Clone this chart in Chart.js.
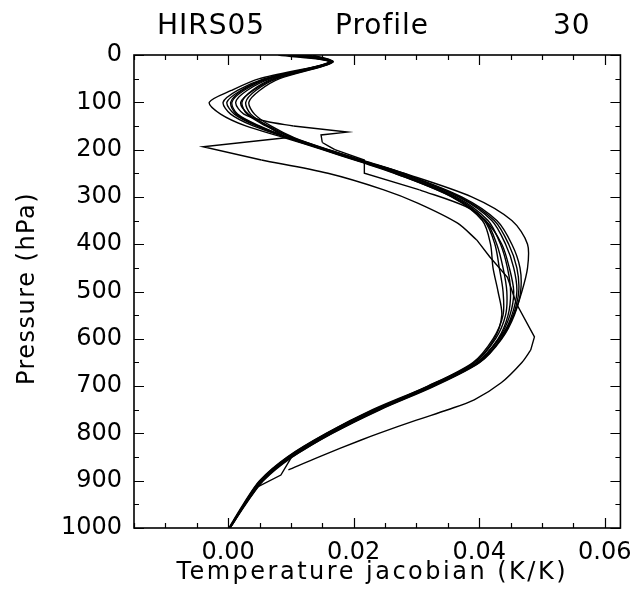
<!DOCTYPE html>
<html><head><meta charset="utf-8">
<script src="https://cdn.jsdelivr.net/npm/chart.js@4/dist/chart.umd.min.js"></script>
<style>html,body{margin:0;padding:0;background:#fff}</style>
</head><body>
<canvas id="c" width="642" height="614" style="display:block;width:642px;height:614px"></canvas>
<script>
// ---- data ----
const pressure = [0, 15, 50, 75, 100, 125, 150, 175, 200, 225, 250, 300, 350, 400, 450, 500, 550, 600, 650, 700, 750, 800, 850, 900, 950, 1000];
const profileA = [0.0080, 0.0160, 0.0050, 0.0005, -0.0030, -0.0012, 0.0028, 0.0090, 0.0150, 0.0208, 0.0265, 0.0357, 0.0408, 0.0425, 0.0432, 0.0438, 0.0438, 0.0422, 0.0390, 0.0318, 0.0230, 0.0156, 0.0094, 0.0050, 0.0024, 0.0001];
const profileB = [0.0095, 0.0162, 0.0058, 0.0015, -0.0008, 0.0004, 0.0040, 0.0094, 0.0153, 0.0211, 0.0268, 0.0360, 0.0410, 0.0428, 0.0438, 0.0444, 0.0442, 0.0426, 0.0393, 0.0320, 0.0233, 0.0158, 0.0096, 0.0051, 0.0025, 0.0002];
const profileC = [0.0110, 0.0164, 0.0065, 0.0025, 0.0006, 0.0015, 0.0050, 0.0097, 0.0156, 0.0214, 0.0271, 0.0363, 0.0414, 0.0434, 0.0445, 0.0450, 0.0446, 0.0430, 0.0396, 0.0323, 0.0236, 0.0161, 0.0098, 0.0053, 0.0026, 0.0002];
const profileD = [0.0122, 0.0165, 0.0072, 0.0038, 0.0022, 0.0030, 0.0060, 0.0101, 0.0158, 0.0217, 0.0275, 0.0367, 0.0420, 0.0442, 0.0455, 0.0460, 0.0452, 0.0434, 0.0399, 0.0326, 0.0239, 0.0164, 0.0100, 0.0055, 0.0027, 0.0003];
const profileE = [0.0135, 0.0167, 0.0082, 0.0050, 0.0033, 0.0042, 0.0068, 0.0106, 0.0160, 0.0220, 0.0279, 0.0372, 0.0428, 0.0452, 0.0465, 0.0466, 0.0456, 0.0436, 0.0401, 0.0329, 0.0242, 0.0166, 0.0102, 0.0056, 0.0028, 0.0003];
const profileF = [0.0105, 0.0163, 0.0062, 0.0022, 0.0004, 0.0013, 0.0048, 0.0096, 0.0156, 0.0216, 0.0280, 0.0388, 0.0452, 0.0477, 0.0477, 0.0468, 0.0455, 0.0432, 0.0397, 0.0324, 0.0237, 0.0162, 0.0099, 0.0054, 0.0026, 0.0002];
const profileG = [0.0100, 0.0163, 0.0060, 0.0020, -0.0002, 0.0010, 0.0045, 0.0095, 0.0152, 0.0210, 0.0266, 0.0356, 0.0405, 0.0418, 0.0422, 0.0430, 0.0436, 0.0424, 0.0392, 0.0319, 0.0232, 0.0157, 0.0095, 0.0051, 0.0025, 0.0002];

const pressureFlag = [0, 15, 50, 75, 100, 125, 140, 150, 163, 169, 185, 200, 222, 250, 285, 320, 350, 400, 450, 500, 550, 600, 650, 700, 750, 800, 850, 900, 950, 1000];
const profileFlag  = [0.0115, 0.0164, 0.0068, 0.0030, 0.0012, 0.0025, 0.0060, 0.0104, 0.0190, 0.0148, 0.0150, 0.0170, 0.0217, 0.0217, 0.0305, 0.0378, 0.0410, 0.0436, 0.0448, 0.0455, 0.0449, 0.0431, 0.0397, 0.0324, 0.0237, 0.0162, 0.0098, 0.0053, 0.0026, 0.0002];
const sharpFlag = [163, 169, 222, 250];

const pressureOut = [0, 15, 50, 75, 100, 125, 150, 175, 194, 222, 250, 285, 313, 355, 391, 427, 470, 525, 596, 624, 650, 693, 729, 750, 772, 800, 814, 850, 877];
const profileOut  = [0.0125, 0.0165, 0.0075, 0.0040, 0.0020, 0.0032, 0.0062, 0.0092, -0.0040, 0.0053, 0.0159, 0.0248, 0.0302, 0.0365, 0.0396, 0.0417, 0.0445, 0.0459, 0.0488, 0.0482, 0.0468, 0.0435, 0.0392, 0.0350, 0.0300, 0.0240, 0.0212, 0.0144, 0.0096];
const sharpOut = [194, 427, 525, 596];

const pressureStub = [0, 15, 50, 75, 100, 125, 150, 175, 200, 225, 250, 300, 350, 400, 450, 500, 550, 600, 650, 700, 750, 800, 850, 888, 913, 950, 1000];
const profileStub  = [0.0128, 0.0166, 0.0078, 0.0044, 0.0028, 0.0036, 0.0064, 0.0103, 0.0159, 0.0218, 0.0277, 0.0369, 0.0424, 0.0447, 0.0460, 0.0463, 0.0454, 0.0435, 0.0400, 0.0327, 0.0240, 0.0165, 0.0101, 0.0084, 0.0047, 0.0027, 0.0003];
const sharpStub = [888];

const xTickValues = [0, 0.02, 0.04, 0.06];
const yTickValues = [0, 100, 200, 300, 400, 500, 600, 700, 800, 900, 1000];
const titleParts = ['HIRS05', 'Profile', '30'];
const xTitle = 'Temperature jacobian (K/K)';
const yTitle = 'Pressure (hPa)';

// ---- build ----
const FONT = "'DejaVu Sans', sans-serif";
const curves = [
  [pressure, profileA, []], [pressure, profileB, []], [pressure, profileC, []], [pressure, profileD, []],
  [pressure, profileE, []], [pressure, profileF, []], [pressure, profileG, []],
  [pressureFlag, profileFlag, sharpFlag], [pressureOut, profileOut, sharpOut], [pressureStub, profileStub, sharpStub]
];
const datasets = [];
function addRun(p, j, from, to, straight) {
  const data = [];
  for (let i = from; i <= to; i++) data.push({x: j[i], y: p[i]});
  datasets.push({data, borderColor: '#000', borderWidth: 1.4, pointRadius: 0,
                 tension: straight ? 0 : 0.3, fill: false});
}
curves.forEach(([p, j, sharp]) => {
  const isSharp = i => sharp.includes(p[i]);
  let start = 0, type = null;
  for (let i = 0; i < p.length - 1; i++) {
    const st = isSharp(i) || isSharp(i + 1);
    if (type === null) { type = st; start = i; }
    else if (st !== type) { addRun(p, j, start, i, type); type = st; start = i; }
  }
  addRun(p, j, start, p.length - 1, type);
});

const framePlugin = {
  id: 'frame',
  afterDraw(chart) {
    const {ctx, chartArea: a, scales} = chart;
    const xs = scales.x, ys = scales.y;
    ctx.save();
    ctx.strokeStyle = '#000';
    ctx.lineWidth = 1.6;
    ctx.strokeRect(a.left, a.top, a.right - a.left, a.bottom - a.top);
    ctx.lineWidth = 1.2;
    ctx.beginPath();
    for (let k = -3; k <= 12; k++) {
      const v = k * 0.005;
      if (v < xs.min - 1e-9 || v > xs.max + 1e-9) continue;
      const px = Math.round(xs.getPixelForValue(v)) + 0.5;
      const len = (k % 4 === 0) ? 10 : 5;
      ctx.moveTo(px, a.bottom); ctx.lineTo(px, a.bottom - len);
      ctx.moveTo(px, a.top); ctx.lineTo(px, a.top + len);
    }
    for (let k = 0; k <= 20; k++) {
      const v = k * 50;
      const py = Math.round(ys.getPixelForValue(v)) + 0.5;
      const len = (k % 2 === 0) ? 10 : 5;
      ctx.moveTo(a.left, py); ctx.lineTo(a.left + len, py);
      ctx.moveTo(a.right, py); ctx.lineTo(a.right - len, py);
    }
    ctx.stroke();
    ctx.fillStyle = '#000';
    ctx.textBaseline = 'alphabetic';
    // main title
    ctx.font = "28px " + FONT;
    ctx.letterSpacing = '1px';
    ctx.textAlign = 'left';
    ctx.fillText(titleParts[0], 157, 34);
    ctx.fillText(titleParts[1], 335, 34);
    ctx.fillText(titleParts[2], 553, 34);
    // axis titles
    ctx.font = "24px " + FONT;
    ctx.letterSpacing = '2.5px';
    ctx.textAlign = 'center';
    ctx.fillText(xTitle, (a.left + a.right) / 2 - 5, 579);
    ctx.letterSpacing = '1.5px';
    ctx.translate(34, (a.top + a.bottom) / 2 - 3);
    ctx.rotate(-Math.PI / 2);
    ctx.fillText(yTitle, 0, 0);
    ctx.restore();
  }
};

new Chart(document.getElementById('c'), {
  type: 'line',
  data: {datasets},
  plugins: [framePlugin],
  options: {
    responsive: false, animation: false, devicePixelRatio: 1,
    layout: {padding: {top: 55, right: 17, bottom: 0, left: 0}},
    plugins: {legend: {display: false}, title: {display: false}, tooltip: {enabled: false}},
    scales: {
      x: {
        type: 'linear', position: 'bottom', min: -0.015, max: 0.0625,
        afterBuildTicks: s => { s.ticks = xTickValues.map(v => ({value: v})); },
        afterFit: s => { s.height = 86; },
        ticks: {callback: v => Number(v).toFixed(2), font: {family: FONT, size: 24}, color: '#000', padding: 10, maxRotation: 0, autoSkip: false},
        grid: {display: false, drawTicks: false},
        border: {display: false},
        title: {display: false}
      },
      y: {
        type: 'linear', position: 'left', reverse: true, min: 0, max: 1000,
        afterBuildTicks: s => { s.ticks = yTickValues.map(v => ({value: v})); },
        afterFit: s => { s.width = 134; },
        ticks: {callback: v => String(v), font: {family: FONT, size: 24}, color: '#000', padding: 12, autoSkip: false},
        grid: {display: false, drawTicks: false},
        border: {display: false},
        title: {display: false}
      }
    }
  }
});
</script>
</body></html>
